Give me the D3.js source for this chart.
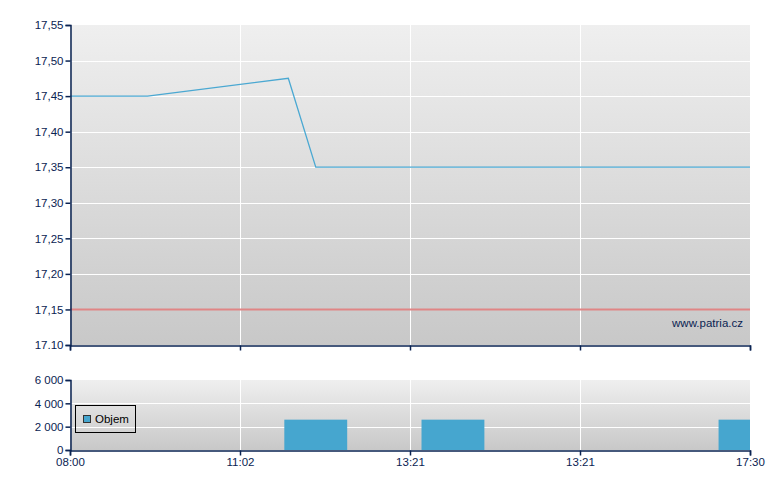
<!DOCTYPE html>
<html><head><meta charset="utf-8">
<script src="https://cdn.jsdelivr.net/npm/d3@7"></script>
<style>body{margin:0;background:#fff}svg{display:block}text{font-family:"Liberation Sans",Arial,sans-serif}</style>
</head><body>
<svg id="c" width="780" height="490"></svg>
<script>
// minutes since 08:00
const priceTimes = [0, 65, 183, 206, 570];
const priceValues = [17.45, 17.45, 17.475, 17.35, 17.35];
const volumeTimes = [206, 321, 570];
const volumeValues = [2600, 2600, 2600];
const refPrice = 17.15;
const priceTicks = [17.10,17.15,17.20,17.25,17.30,17.35,17.40,17.45,17.50,17.55];
const priceTickLabels = ["17.10","17,15","17,20","17,25","17,30","17,35","17,40","17,45","17,50","17,55"];
const volumeTicks = [0,2000,4000,6000];
const volumeTickLabels = ["0","2 000","4 000","6 000"];
const xTickPos = [0,142.5,285,427.5,570];
const xTickLabels = ["08:00","11:02","13:21","13:21","17:30"];
const legendLabel = "Objem";
const watermark = "www.patria.cz";

const svg = d3.select("#c");
const L=70,R=750;
const x = d3.scaleLinear().domain([0,570]).range([L,R]);
const yP = d3.scaleLinear().domain([17.10,17.55]).range([345,25]);
const yV = d3.scaleLinear().domain([0,6000]).range([450,380]);
const axisCol="#0a2352", textCol="#0a2352";

const defs=svg.append("defs");
const g=defs.append("linearGradient").attr("id","bg").attr("x1",0).attr("y1",0).attr("x2",0).attr("y2",1);
g.append("stop").attr("offset","0%").attr("stop-color","#efefef");
g.append("stop").attr("offset","100%").attr("stop-color","#c8c8c8");
defs.append("clipPath").attr("id","clipV").append("rect").attr("x",L).attr("y",370).attr("width",R-L).attr("height",80);

function panel(y0,y1,yScale,ticks,labels,showXLabels){
  svg.append("rect").attr("x",L).attr("y",y0).attr("width",R-L).attr("height",y1-y0).attr("fill","url(#bg)");
  const gg=svg.append("g");
  ticks.forEach(t=>{ if(yScale(t)>y0+0.5 && yScale(t)<y1-0.5)
    gg.append("line").attr("x1",L).attr("x2",R).attr("y1",Math.round(yScale(t))+0.5).attr("y2",Math.round(yScale(t))+0.5).attr("stroke","#fff").attr("stroke-width",1);});
  xTickPos.slice(1,-1).forEach(t=>{
    gg.append("line").attr("x1",Math.round(x(t))+0.5).attr("x2",Math.round(x(t))+0.5).attr("y1",y0).attr("y2",y1).attr("stroke","#fff");});
}
panel(25,345,yP,priceTicks);
panel(380,450,yV,volumeTicks);

// reference line
svg.append("line").attr("x1",L).attr("x2",R).attr("y1",yP(refPrice)).attr("y2",yP(refPrice)).attr("stroke","#e08585").attr("stroke-width",2);

// price line
svg.append("path").datum(priceTimes.map((t,i)=>[t,priceValues[i]]))
  .attr("d",d3.line().x(d=>x(d[0])).y(d=>yP(d[1])))
  .attr("fill","none").attr("stroke","#4aa8d2").attr("stroke-width",1.3);

// volume bars
const bw = x(52.7)-x(0);
svg.append("g").attr("clip-path","url(#clipV)").selectAll("rect").data(volumeTimes).join("rect")
  .attr("x",(d)=>x(d)-bw/2).attr("width",bw)
  .attr("y",(d,i)=>yV(volumeValues[i])).attr("height",(d,i)=>450-yV(volumeValues[i]))
  .attr("fill","#46a6cf");

// axes
function yAxis(scale,ticks,labels){
  const a=d3.axisLeft(scale).tickValues(ticks).tickFormat((d,i)=>labels[i]).tickSizeOuter(0).tickSize(5);
  const ax=svg.append("g").attr("transform",`translate(${L+0.5},0)`).call(a);
  ax.select(".domain").attr("stroke",axisCol).attr("stroke-width",1.5);
  ax.selectAll(".tick line").attr("stroke",axisCol).attr("stroke-width",1.5);
  ax.selectAll("text").attr("fill",textCol).attr("font-size","11.5px").attr("font-family","Liberation Sans, Arial, sans-serif").attr("x",-7);
}
yAxis(yP,priceTicks,priceTickLabels);
yAxis(yV,volumeTicks,volumeTickLabels);

function xAxis(y,labels){
  const a=d3.axisBottom(x).tickValues(xTickPos).tickFormat((d,i)=>labels?labels[i]:"").tickSizeOuter(0).tickSize(5);
  const ax=svg.append("g").attr("transform",`translate(0,${y+0.5})`).call(a);
  ax.select(".domain").attr("stroke",axisCol).attr("stroke-width",1.5);
  ax.selectAll(".tick line").attr("stroke",axisCol).attr("stroke-width",1.5);
  ax.selectAll("text").attr("fill",textCol).attr("font-size","11.5px").attr("font-family","Liberation Sans, Arial, sans-serif").attr("y",7);
}
xAxis(345,null);
xAxis(450,xTickLabels);

// watermark
svg.append("text").attr("x",743).attr("y",327).attr("text-anchor","end").attr("fill",textCol).attr("font-size","11.5px").text(watermark);

// legend
svg.append("rect").attr("x",75.5).attr("y",405.5).attr("width",60).attr("height",27).attr("fill","none").attr("stroke","#000").attr("stroke-width",1);
svg.append("rect").attr("x",83.5).attr("y",415.5).attr("width",7).attr("height",7).attr("fill","#46a6cf").attr("stroke","#333").attr("stroke-width",1);
svg.append("text").attr("x",95).attr("y",423).attr("fill","#000").attr("font-size","11.5px").text(legendLabel);
</script>
</body></html>
